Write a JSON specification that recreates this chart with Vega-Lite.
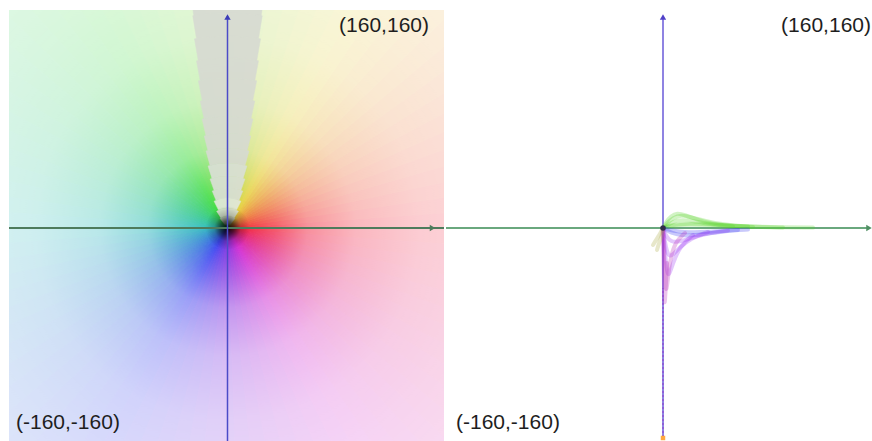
{
  "$schema": "https://vega.github.io/schema/vega-lite/v6.json",
  "padding": {"left": 8, "top": 10, "right": 0, "bottom": 0},
  "background": "white",
  "spacing": 0,
  "config": {"view": {"stroke": null}, "concat": {"spacing": 0}},
  "datasets": {
    "hue": [
      {"a":0,"b":4,"h":2},{"a":4,"b":8,"h":6},{"a":8,"b":12,"h":10},{"a":12,"b":16,"h":14},{"a":16,"b":20,"h":18},
      {"a":20,"b":24,"h":22},{"a":24,"b":28,"h":26},{"a":28,"b":32,"h":30},{"a":32,"b":36,"h":34},{"a":36,"b":40,"h":38},
      {"a":40,"b":44,"h":42},{"a":44,"b":48,"h":46},{"a":48,"b":52,"h":50},{"a":52,"b":56,"h":54},{"a":56,"b":60,"h":58},
      {"a":60,"b":64,"h":62},{"a":64,"b":68,"h":66},{"a":68,"b":72,"h":70},{"a":72,"b":76,"h":74},{"a":76,"b":80,"h":78},
      {"a":80,"b":84,"h":82},{"a":84,"b":88,"h":86},{"a":88,"b":92,"h":90},{"a":92,"b":96,"h":94},{"a":96,"b":100,"h":98},
      {"a":100,"b":104,"h":102},{"a":104,"b":108,"h":106},{"a":108,"b":112,"h":110},{"a":112,"b":116,"h":114},{"a":116,"b":120,"h":118},
      {"a":120,"b":124,"h":122},{"a":124,"b":128,"h":126},{"a":128,"b":132,"h":130},{"a":132,"b":136,"h":134},{"a":136,"b":140,"h":138},
      {"a":140,"b":144,"h":142},{"a":144,"b":148,"h":146},{"a":148,"b":152,"h":150},{"a":152,"b":156,"h":154},{"a":156,"b":160,"h":158},
      {"a":160,"b":164,"h":162},{"a":164,"b":168,"h":166},{"a":168,"b":172,"h":170},{"a":172,"b":176,"h":174},{"a":176,"b":180,"h":178},
      {"a":180,"b":184,"h":182},{"a":184,"b":188,"h":186},{"a":188,"b":192,"h":190},{"a":192,"b":196,"h":194},{"a":196,"b":200,"h":198},
      {"a":200,"b":204,"h":202},{"a":204,"b":208,"h":206},{"a":208,"b":212,"h":210},{"a":212,"b":216,"h":214},{"a":216,"b":220,"h":218},
      {"a":220,"b":224,"h":222},{"a":224,"b":228,"h":226},{"a":228,"b":232,"h":230},{"a":232,"b":236,"h":234},{"a":236,"b":240,"h":238},
      {"a":240,"b":244,"h":242},{"a":244,"b":248,"h":246},{"a":248,"b":252,"h":250},{"a":252,"b":256,"h":254},{"a":256,"b":260,"h":258},
      {"a":260,"b":264,"h":262},{"a":264,"b":268,"h":266},{"a":268,"b":272,"h":270},{"a":272,"b":276,"h":274},{"a":276,"b":280,"h":278},
      {"a":280,"b":284,"h":282},{"a":284,"b":288,"h":286},{"a":288,"b":292,"h":290},{"a":292,"b":296,"h":294},{"a":296,"b":300,"h":298},
      {"a":300,"b":304,"h":302},{"a":304,"b":308,"h":306},{"a":308,"b":312,"h":310},{"a":312,"b":316,"h":314},{"a":316,"b":320,"h":318},
      {"a":320,"b":324,"h":322},{"a":324,"b":328,"h":326},{"a":328,"b":332,"h":330},{"a":332,"b":336,"h":334},{"a":336,"b":340,"h":338},
      {"a":340,"b":344,"h":342},{"a":344,"b":348,"h":346},{"a":348,"b":352,"h":350},{"a":352,"b":356,"h":354},{"a":356,"b":360,"h":358}
    ],
    "wedge": [
      {"a":52,"b":128,"r0":4,"r1":12,"s":"in"},
      {"a":57,"b":123,"r0":12,"r1":20,"s":"in"},
      {"a":63.4,"b":116.6,"r0":20,"r1":30,"s":"in"},
      {"a":67.5,"b":112.5,"r0":30,"r1":40,"s":"mid"},
      {"a":70.4,"b":109.6,"r0":40,"r1":52,"s":"mid"},
      {"a":72.6,"b":107.4,"r0":52,"r1":65,"s":"mid"},
      {"a":74.4,"b":105.6,"r0":65,"r1":80,"s":"out"},
      {"a":75.8,"b":104.2,"r0":80,"r1":95,"s":"out"},
      {"a":76.9,"b":103.1,"r0":95,"r1":112,"s":"out"},
      {"a":77.9,"b":102.1,"r0":112,"r1":130,"s":"out"},
      {"a":78.8,"b":101.2,"r0":130,"r1":150,"s":"out"},
      {"a":79.5,"b":100.5,"r0":150,"r1":170,"s":"out"},
      {"a":80.1,"b":99.9,"r0":170,"r1":192,"s":"out"},
      {"a":80.7,"b":99.3,"r0":192,"r1":215,"s":"out"},
      {"a":81,"b":99,"r0":215,"r1":320,"s":"out"}
    ],
    "streaks": [
      {"g":"g1","c":"green","i":0,"x":0,"y":0},{"g":"g1","c":"green","i":1,"x":4,"y":5},{"g":"g1","c":"green","i":2,"x":10,"y":10},{"g":"g1","c":"green","i":3,"x":18,"y":13},{"g":"g1","c":"green","i":4,"x":28,"y":11},{"g":"g1","c":"green","i":5,"x":42,"y":7},{"g":"g1","c":"green","i":6,"x":60,"y":3.5},{"g":"g1","c":"green","i":7,"x":85,"y":1.5},
      {"g":"g2","c":"green","i":0,"x":0,"y":0},{"g":"g2","c":"green","i":1,"x":6,"y":4},{"g":"g2","c":"green","i":2,"x":14,"y":8},{"g":"g2","c":"green","i":3,"x":25,"y":8},{"g":"g2","c":"green","i":4,"x":40,"y":5},{"g":"g2","c":"green","i":5,"x":60,"y":2.5},{"g":"g2","c":"green","i":6,"x":90,"y":1},
      {"g":"g3","c":"green","i":0,"x":0,"y":0},{"g":"g3","c":"green","i":1,"x":3,"y":6},{"g":"g3","c":"green","i":2,"x":8,"y":12},{"g":"g3","c":"green","i":3,"x":14,"y":15},{"g":"g3","c":"green","i":4,"x":22,"y":13},{"g":"g3","c":"green","i":5,"x":35,"y":8},{"g":"g3","c":"green","i":6,"x":50,"y":4},{"g":"g3","c":"green","i":7,"x":70,"y":1.5},
      {"g":"g4","c":"green","i":0,"x":0,"y":0},{"g":"g4","c":"green","i":1,"x":10,"y":2.5},{"g":"g4","c":"green","i":2,"x":25,"y":3.5},{"g":"g4","c":"green","i":3,"x":45,"y":3},{"g":"g4","c":"green","i":4,"x":75,"y":1.5},{"g":"g4","c":"green","i":5,"x":120,"y":0.8},{"g":"g4","c":"green","i":6,"x":150,"y":0.4},
      {"g":"g5","c":"green","i":0,"x":0,"y":0},{"g":"g5","c":"green","i":1,"x":5,"y":2},{"g":"g5","c":"green","i":2,"x":15,"y":4},{"g":"g5","c":"green","i":3,"x":30,"y":4.5},{"g":"g5","c":"green","i":4,"x":55,"y":3},{"g":"g5","c":"green","i":5,"x":90,"y":1.2},{"g":"g5","c":"green","i":6,"x":120,"y":0.5},
      {"g":"b1","c":"blue","i":0,"x":0,"y":0},{"g":"b1","c":"blue","i":1,"x":10,"y":-3},{"g":"b1","c":"blue","i":2,"x":25,"y":-4.5},{"g":"b1","c":"blue","i":3,"x":45,"y":-4},{"g":"b1","c":"blue","i":4,"x":65,"y":-2.5},{"g":"b1","c":"blue","i":5,"x":85,"y":-1.5},
      {"g":"b2","c":"blue","i":0,"x":0,"y":0},{"g":"b2","c":"blue","i":1,"x":8,"y":-5},{"g":"b2","c":"blue","i":2,"x":20,"y":-8},{"g":"b2","c":"blue","i":3,"x":35,"y":-7},{"g":"b2","c":"blue","i":4,"x":55,"y":-4},{"g":"b2","c":"blue","i":5,"x":75,"y":-2},
      {"g":"p1","c":"purple","i":0,"x":0,"y":0},{"g":"p1","c":"purple","i":1,"x":3,"y":-8},{"g":"p1","c":"purple","i":2,"x":8,"y":-14},{"g":"p1","c":"purple","i":3,"x":16,"y":-14},{"g":"p1","c":"purple","i":4,"x":28,"y":-10},{"g":"p1","c":"purple","i":5,"x":45,"y":-5},{"g":"p1","c":"purple","i":6,"x":65,"y":-2.5},
      {"g":"p2","c":"purple","i":0,"x":0,"y":0},{"g":"p2","c":"purple","i":1,"x":2,"y":-15},{"g":"p2","c":"purple","i":2,"x":5,"y":-28},{"g":"p2","c":"purple","i":3,"x":9,"y":-28},{"g":"p2","c":"purple","i":4,"x":16,"y":-20},{"g":"p2","c":"purple","i":5,"x":28,"y":-10},{"g":"p2","c":"purple","i":6,"x":45,"y":-4},
      {"g":"p3","c":"purple","i":0,"x":0,"y":0},{"g":"p3","c":"purple","i":1,"x":2,"y":-25},{"g":"p3","c":"purple","i":2,"x":4,"y":-45},{"g":"p3","c":"purple","i":3,"x":6,"y":-48},{"g":"p3","c":"purple","i":4,"x":10,"y":-35},{"g":"p3","c":"purple","i":5,"x":17,"y":-18},{"g":"p3","c":"purple","i":6,"x":30,"y":-7},
      {"g":"m1","c":"magenta","i":0,"x":0,"y":0},{"g":"m1","c":"magenta","i":1,"x":1,"y":-25},{"g":"m1","c":"magenta","i":2,"x":2,"y":-50},{"g":"m1","c":"magenta","i":3,"x":3,"y":-65},{"g":"m1","c":"magenta","i":4,"x":4.5,"y":-55},{"g":"m1","c":"magenta","i":5,"x":7,"y":-32},{"g":"m1","c":"magenta","i":6,"x":12,"y":-14},{"g":"m1","c":"magenta","i":7,"x":22,"y":-5},
      {"g":"m2","c":"magenta","i":0,"x":0,"y":0},{"g":"m2","c":"magenta","i":1,"x":0.5,"y":-30},{"g":"m2","c":"magenta","i":2,"x":1,"y":-60},{"g":"m2","c":"magenta","i":3,"x":1.5,"y":-80},{"g":"m2","c":"magenta","i":4,"x":2.5,"y":-65},{"g":"m2","c":"magenta","i":5,"x":4,"y":-35},
      {"g":"y1","c":"olive","i":0,"x":0,"y":0},{"g":"y1","c":"olive","i":1,"x":-3,"y":-6},{"g":"y1","c":"olive","i":2,"x":-7,"y":-12},{"g":"y1","c":"olive","i":3,"x":-10,"y":-17},
      {"g":"y2","c":"olive","i":0,"x":0,"y":0},{"g":"y2","c":"olive","i":1,"x":-1,"y":-8},{"g":"y2","c":"olive","i":2,"x":-4,"y":-15},{"g":"y2","c":"olive","i":3,"x":-6,"y":-22}
    ]
  },
  "hconcat": [
    {
      "width": 435,
      "height": 431,
      "layer": [
        {
          "data": {"name": "hue"},
          "mark": {"type": "arc", "clip": true, "strokeWidth": 1},
          "encoding": {
            "x": {"datum": 0, "type": "quantitative", "scale": {"domain": [-218.5, 216.5], "nice": false, "zero": false}, "axis": null},
            "y": {"datum": 0, "type": "quantitative", "scale": {"domain": [-213, 218], "nice": false, "zero": false}, "axis": null},
            "theta": {"field": "a", "type": "quantitative", "stack": null, "scale": {"domain": [0, 360], "range": [1.5708, -4.7124]}},
            "theta2": {"field": "b"},
            "radius": {"datum": 320, "type": "quantitative", "scale": {"type": "linear", "domain": [0, 320], "range": [0, 320]}},
            "color": {"field": "h", "type": "quantitative", "legend": null, "scale": {"domain": [0, 60, 120, 180, 240, 300, 360], "range": ["#f22a40", "#e6d23c", "#3cdc3c", "#32bebe", "#3c46f0", "#d22ad2", "#f22a40"], "interpolate": "rgb"}},
            "stroke": {"field": "h", "type": "quantitative", "legend": null, "scale": {"domain": [0, 60, 120, 180, 240, 300, 360], "range": ["#f22a40", "#e6d23c", "#3cdc3c", "#32bebe", "#3c46f0", "#d22ad2", "#f22a40"], "interpolate": "rgb"}}
          }
        },
        {
          "data": {"values": [{}]},
          "mark": {"type": "arc", "clip": true, "color": {"gradient": "radial", "x1": 0.5, "y1": 0.5, "r1": 0, "x2": 0.5, "y2": 0.5, "r2": 0.5,
            "stops": [
              {"offset": 0, "color": "rgba(255,255,255,0)"},
              {"offset": 0.05, "color": "rgba(255,255,255,0)"},
              {"offset": 0.15, "color": "rgba(255,255,255,0.22)"},
              {"offset": 0.25, "color": "rgba(255,255,255,0.48)"},
              {"offset": 0.4, "color": "rgba(255,255,255,0.66)"},
              {"offset": 0.6, "color": "rgba(255,255,255,0.76)"},
              {"offset": 0.8, "color": "rgba(255,255,255,0.8)"},
              {"offset": 1, "color": "rgba(255,255,255,0.83)"}
            ]}},
          "encoding": {
            "x": {"datum": 0, "type": "quantitative"},
            "y": {"datum": 0, "type": "quantitative"},
            "theta": {"datum": 0, "type": "quantitative"},
            "theta2": {"datum": 360},
            "radius": {"datum": 320, "type": "quantitative"}
          }
        },
        {
          "data": {"name": "wedge"},
          "mark": {"type": "arc", "clip": true, "strokeWidth": 0.5},
          "encoding": {
            "x": {"datum": 0, "type": "quantitative"},
            "y": {"datum": 0, "type": "quantitative"},
            "theta": {"field": "a", "type": "quantitative", "stack": null},
            "theta2": {"field": "b"},
            "radius": {"field": "r1", "type": "quantitative"},
            "radius2": {"field": "r0"},
            "color": {"field": "s", "type": "nominal", "legend": null, "scale": {"domain": ["in", "mid", "out"], "range": ["#e2e8dc", "#dadfd6", "#d7dad2"]}},
            "stroke": {"field": "s", "type": "nominal", "legend": null, "scale": {"domain": ["in", "mid", "out"], "range": ["#e2e8dc", "#dadfd6", "#d7dad2"]}},
            "opacity": {"value": 0.92}
          }
        },
        {
          "data": {"values": [{}]},
          "mark": {"type": "arc", "clip": true, "color": {"gradient": "radial", "x1": 0.5, "y1": 0.5, "r1": 0, "x2": 0.5, "y2": 0.5, "r2": 0.5,
            "stops": [
              {"offset": 0, "color": "rgba(0,0,0,0.95)"},
              {"offset": 0.3, "color": "rgba(0,0,0,0.65)"},
              {"offset": 0.6, "color": "rgba(0,0,0,0.2)"},
              {"offset": 1, "color": "rgba(0,0,0,0)"}
            ]}},
          "encoding": {
            "x": {"datum": 0, "type": "quantitative"},
            "y": {"datum": 0, "type": "quantitative"},
            "theta": {"datum": 0, "type": "quantitative"},
            "theta2": {"datum": 360},
            "radius": {"datum": 22, "type": "quantitative"}
          }
        },
        {
          "data": {"values": [{}]},
          "mark": {"type": "rule", "color": "#4e7b5c", "strokeWidth": 2},
          "encoding": {
            "x": {"datum": -218.5, "type": "quantitative"},
            "x2": {"datum": 216.5},
            "y": {"datum": 0, "type": "quantitative"}
          }
        },
        {
          "data": {"values": [{}]},
          "mark": {"type": "rule", "color": "#4b4bc8", "strokeWidth": 1.5},
          "encoding": {
            "x": {"datum": 0, "type": "quantitative"},
            "y": {"datum": -213, "type": "quantitative"},
            "y2": {"datum": 212}
          }
        },
        {
          "data": {"values": [{}]},
          "mark": {"type": "point", "shape": "triangle-up", "filled": true, "size": 40, "color": "#3c3cb8", "opacity": 1},
          "encoding": {
            "x": {"datum": 0, "type": "quantitative"},
            "y": {"datum": 211, "type": "quantitative"}
          }
        },
        {
          "data": {"values": [{}]},
          "mark": {"type": "point", "shape": "triangle-right", "filled": true, "size": 40, "color": "#4e7b5c", "opacity": 1},
          "encoding": {
            "x": {"datum": 205, "type": "quantitative"},
            "y": {"datum": 0, "type": "quantitative"}
          }
        },
        {
          "data": {"values": [{}]},
          "mark": {"type": "text", "text": "(160,160)", "align": "right", "baseline": "middle", "font": "Liberation Sans", "fontSize": 21, "color": "#1e1e1e"},
          "encoding": {
            "x": {"datum": 201.5, "type": "quantitative"},
            "y": {"datum": 202, "type": "quantitative"}
          }
        },
        {
          "data": {"values": [{}]},
          "mark": {"type": "text", "text": "(-160,-160)", "align": "left", "baseline": "middle", "font": "Liberation Sans", "fontSize": 21, "color": "#1e1e1e"},
          "encoding": {
            "x": {"datum": -211.5, "type": "quantitative"},
            "y": {"datum": -195, "type": "quantitative"}
          }
        }
      ]
    },
    {
      "width": 429,
      "height": 431,
      "layer": [
        {
          "data": {"values": [{}]},
          "mark": {"type": "rule", "color": "#6aa87e", "strokeWidth": 2},
          "encoding": {
            "x": {"datum": -217, "type": "quantitative", "scale": {"domain": [-217, 212], "nice": false, "zero": false}, "axis": null},
            "x2": {"datum": 206},
            "y": {"datum": 0, "type": "quantitative", "scale": {"domain": [-213, 218], "nice": false, "zero": false}, "axis": null}
          }
        },
        {
          "data": {"values": [{}]},
          "mark": {"type": "rule", "color": "#6a5ad8", "strokeWidth": 1.5},
          "encoding": {
            "x": {"datum": 0, "type": "quantitative"},
            "y": {"datum": -211, "type": "quantitative"},
            "y2": {"datum": 212}
          }
        },
        {
          "data": {"values": [{}]},
          "mark": {"type": "rule", "color": "#9048d0", "strokeWidth": 2, "strokeDash": [2, 2], "opacity": 0.6},
          "encoding": {
            "x": {"datum": 0, "type": "quantitative"},
            "y": {"datum": -209, "type": "quantitative"},
            "y2": {"datum": -60}
          }
        },
        {
          "data": {"name": "streaks"},
          "mark": {"type": "line", "clip": true, "opacity": 0.28, "strokeWidth": 4, "interpolate": "basis", "strokeCap": "round"},
          "encoding": {
            "x": {"field": "x", "type": "quantitative"},
            "y": {"field": "y", "type": "quantitative"},
            "detail": {"field": "g"},
            "order": {"field": "i"},
            "color": {"field": "c", "type": "nominal", "legend": null, "scale": {"domain": ["green", "blue", "purple", "magenta", "olive"], "range": ["#5ad52a", "#3c3cf0", "#9a35f5", "#b828b8", "#a8a840"]}}
          }
        },
        {
          "data": {"values": [{}]},
          "mark": {"type": "point", "shape": "circle", "filled": true, "size": 30, "color": "#202040", "opacity": 0.85},
          "encoding": {
            "x": {"datum": 0, "type": "quantitative"},
            "y": {"datum": 0, "type": "quantitative"}
          }
        },
        {
          "data": {"values": [{}]},
          "mark": {"type": "point", "shape": "square", "filled": true, "size": 20, "color": "#ffa840", "opacity": 1},
          "encoding": {
            "x": {"datum": 0, "type": "quantitative"},
            "y": {"datum": -210, "type": "quantitative"}
          }
        },
        {
          "data": {"values": [{}]},
          "mark": {"type": "point", "shape": "triangle-up", "filled": true, "size": 40, "color": "#5040c8", "opacity": 1},
          "encoding": {
            "x": {"datum": 0, "type": "quantitative"},
            "y": {"datum": 211, "type": "quantitative"}
          }
        },
        {
          "data": {"values": [{}]},
          "mark": {"type": "point", "shape": "triangle-right", "filled": true, "size": 40, "color": "#4f8f63", "opacity": 1},
          "encoding": {
            "x": {"datum": 206, "type": "quantitative"},
            "y": {"datum": 0, "type": "quantitative"}
          }
        },
        {
          "data": {"values": [{}]},
          "mark": {"type": "text", "text": "(160,160)", "align": "right", "baseline": "middle", "font": "Liberation Sans", "fontSize": 21, "color": "#1e1e1e"},
          "encoding": {
            "x": {"datum": 208, "type": "quantitative"},
            "y": {"datum": 202, "type": "quantitative"}
          }
        },
        {
          "data": {"values": [{}]},
          "mark": {"type": "text", "text": "(-160,-160)", "align": "left", "baseline": "middle", "font": "Liberation Sans", "fontSize": 21, "color": "#1e1e1e"},
          "encoding": {
            "x": {"datum": -207, "type": "quantitative"},
            "y": {"datum": -195, "type": "quantitative"}
          }
        }
      ]
    }
  ]
}
